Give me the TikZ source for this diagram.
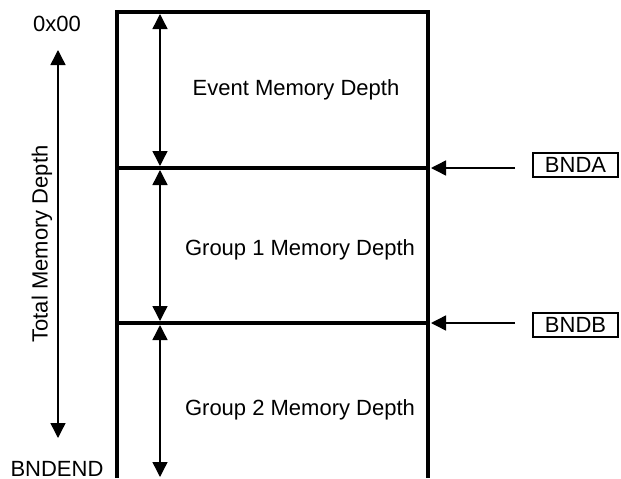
\documentclass[tikz,border=0pt]{standalone}
\usepackage{fontspec}
\setmainfont{Liberation Sans}
\usetikzlibrary{arrows.meta}
\begin{document}
\begin{tikzpicture}[x=0.5pt,y=0.5pt,font=\fontsize{11}{13}\selectfont,
  wall/.style={line width=1.75pt},
  dim/.style={line width=0.7pt,{Triangle[length=7.5pt,width=7.5pt]}-{Triangle[length=7.5pt,width=7.5pt]}},
  ptr/.style={line width=0.7pt,-{Triangle[length=7.5pt,width=7.5pt]}},
  tag/.style={draw,line width=0.9pt,minimum width=42.5pt,minimum height=12pt,inner sep=0pt}]
\useasboundingbox (0,0) rectangle (621,478);
% memory block
\draw[wall] (117,0) -- (117,466) -- (428,466) -- (428,0);
\draw[wall] (117,310) -- (428,310);
\draw[wall] (117,155) -- (428,155);
\coordinate (ea) at (431,310);
\coordinate (eb) at (431,155);
% total depth
\node (top) at (57,454) {0x00};
\node[anchor=base] (bnd) at (57,2) {BNDEND};
\coordinate (t1) at (58,428);
\coordinate (t2) at (58,40);
\draw[dim] (t1) -- (t2);
\node[rotate=90] (total) at (42,234) {Total Memory Depth};
% section depths
\coordinate (a1) at (160,464);
\coordinate (a2) at (160,312);
\coordinate (b1) at (160,308);
\coordinate (b2) at (160,157);
\coordinate (c1) at (160,153);
\coordinate (c2) at (160,1);
\draw[dim] (a1) -- (a2);
\draw[dim] (b1) -- (b2);
\draw[dim] (c1) -- (c2);
\node (ev) at (296,388) {Event Memory Depth};
\node (g1) at (300,228) {Group 1 Memory Depth};
\node (g2) at (300,68) {Group 2 Memory Depth};
% boundary registers
\node[tag] (bnda) at (575.5,313) {BNDA};
\node[tag] (bndb) at (575.5,153) {BNDB};
\coordinate (pa) at (515,310);
\coordinate (pb) at (515,155);
\draw[ptr] (pa) -- (ea);
\draw[ptr] (pb) -- (eb);
\end{tikzpicture}
\end{document}
